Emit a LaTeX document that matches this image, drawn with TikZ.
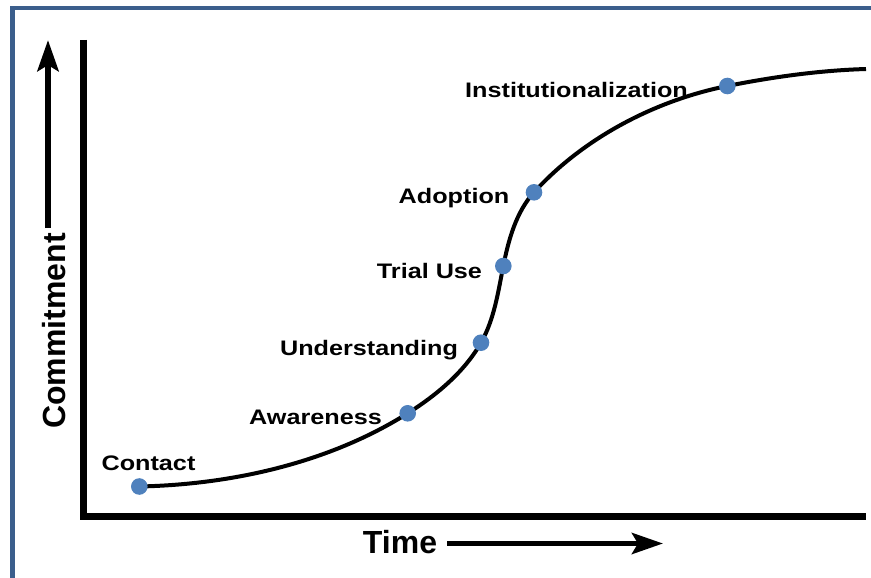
\documentclass[tikz,border=0pt]{standalone}
\usepackage{fontspec}
\setmainfont{Liberation Sans}
\newfontfamily\lblfont[FakeStretch=1.2]{Liberation Sans}
\usetikzlibrary{arrows.meta}
\definecolor{frameblue}{HTML}{3B5E8C}
\definecolor{dotblue}{HTML}{4F81BD}
\begin{document}
\begin{tikzpicture}[x=1pt,y=-1pt,
  lbl/.style={font={\lblfont\bfseries\fontsize{21}{25}\selectfont}, anchor=base, inner sep=0pt},
  axtitle/.style={font={\bfseries\fontsize{32}{38}\selectfont}, inner sep=0pt, anchor=base},
  dot/.style={circle, fill=dotblue, minimum size=16.6pt, inner sep=0pt},
  frameline/.style={draw=frameblue, line width=4.5pt},
  axis/.style={line width=7pt, line join=miter},
  curve/.style={line width=4pt},
  bigarrow/.style={-{Stealth[length=31pt,width=21pt,inset=6pt]}},
  ]
\useasboundingbox (0,0) rectangle (871,578);
% frame
\coordinate (fBL) at (12.5,580);
\coordinate (fTL) at (12.5,8);
\coordinate (fTR) at (873,8);
\draw[frameline] (fBL) -- (fTL) -- (fTR);
% axes
\coordinate (axTop) at (83.5,40);
\coordinate (axOrig) at (83.5,516.5);
\coordinate (axRight) at (866,516.5);
\draw[axis] (axTop) -- (axOrig) -- (axRight);
% commitment arrow
\coordinate (cA) at (48,228);
\coordinate (cB) at (48,40);
\draw[bigarrow, line width=6.5pt] (cA) -- (cB);
\node[axtitle, rotate=90] (commit) at (65,331) {Commitment};
% time arrow
\node[axtitle] (time) at (400,553) {Time};
\coordinate (tA) at (447,543.5);
\coordinate (tB) at (663,543.5);
\draw[bigarrow, line width=5.5pt] (tA) -- (tB);
% curve points
\coordinate (pContact) at (139.3,486.5);
\coordinate (pAware) at (407.7,413.3);
\coordinate (pUnder) at (481,342.7);
\coordinate (pTrial) at (503.3,266);
\coordinate (pAdopt) at (534,192.3);
\coordinate (pInst) at (727.3,86);
\coordinate (pEnd) at (866,69);
\draw[curve] (pContact) .. controls (232,484.6) and (329.3,462.7) .. (pAware)
  .. controls (436.4,395.2) and (464.2,372.1) .. (pUnder)
  .. controls (494.2,319.6) and (498.1,292.1) .. (pTrial)
  .. controls (508.5,239.9) and (516.1,212.0) .. (pAdopt)
  .. controls (583.5,137.9) and (655.2,100.4) .. (pInst)
  .. controls (773,76.9) and (819.4,70.4) .. (pEnd);
% dots
\node[dot] (dContact) at (pContact) {};
\node[dot] (dAware) at (pAware) {};
\node[dot] (dUnder) at (pUnder) {};
\node[dot] (dTrial) at (pTrial) {};
\node[dot] (dAdopt) at (pAdopt) {};
\node[dot] (dInst) at (pInst) {};
% labels
\node[lbl] (lContact) at (148.5,470) {Contact};
\node[lbl] (lAware) at (315.5,424) {Awareness};
\node[lbl] (lUnder) at (369,355) {Understanding};
\node[lbl] (lTrial) at (429.5,278) {Trial Use};
\node[lbl] (lAdopt) at (454,203) {Adoption};
\node[lbl] (lInst) at (576.5,98) {Institutionalization};
\end{tikzpicture}
\end{document}
